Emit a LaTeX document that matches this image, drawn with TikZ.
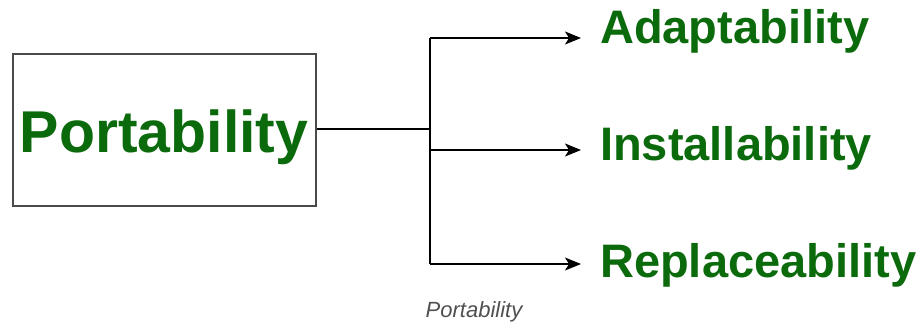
\documentclass[tikz,border=0pt]{standalone}
\usepackage{fontspec}
\setmainfont{Liberation Sans}
\usetikzlibrary{arrows.meta}
\definecolor{gfgreen}{HTML}{0B6A0B}
\definecolor{boxgray}{HTML}{4A4A4A}
\definecolor{capgray}{HTML}{505050}
\tikzset{
  mainbox/.style={draw=boxgray, line width=1.6pt, minimum width=303pt, minimum height=152pt, inner sep=0pt, anchor=center},
  maintext/.style={text=gfgreen, font=\fontsize{59}{60}\selectfont\bfseries, inner sep=0pt, anchor=base},
  leaf/.style={text=gfgreen, font=\fontsize{47}{48}\selectfont\bfseries, inner sep=0pt, anchor=base west},
  conn/.style={line width=1.4pt, draw=black},
  arr/.style={conn, -{Stealth[length=16pt,width=13pt,inset=4pt]}},
  caption/.style={text=capgray, font=\fontsize{22}{24}\selectfont\itshape, inner sep=0pt, anchor=base}
}
\begin{document}
\begin{tikzpicture}[x=1pt,y=-1pt]
\useasboundingbox (0,0) rectangle (920,324);
\node[mainbox] (box) at (164.5,130) {};
\node[maintext] (ptext) at (164,152) {Portability};
\node[leaf] (ada) at (600,43) {Adaptability};
\node[leaf] (ins) at (600,160) {Installability};
\node[leaf] (rep) at (600,277) {Replaceability};
\node[caption] (cap) at (474,317) {Portability};
\coordinate (j) at (430,129);
\coordinate (jt) at (430,38);
\coordinate (jm) at (430,150);
\coordinate (jb) at (430,264);
\coordinate (ta) at (581,38);
\coordinate (tm) at (581,150);
\coordinate (tb) at (581,264);
\draw[conn] (box.east |- j) -- (j);
\draw[conn] (jt) -- (jb);
\draw[arr] (jt) -- (ta);
\draw[arr] (jm) -- (tm);
\draw[arr] (jb) -- (tb);
\end{tikzpicture}
\end{document}
